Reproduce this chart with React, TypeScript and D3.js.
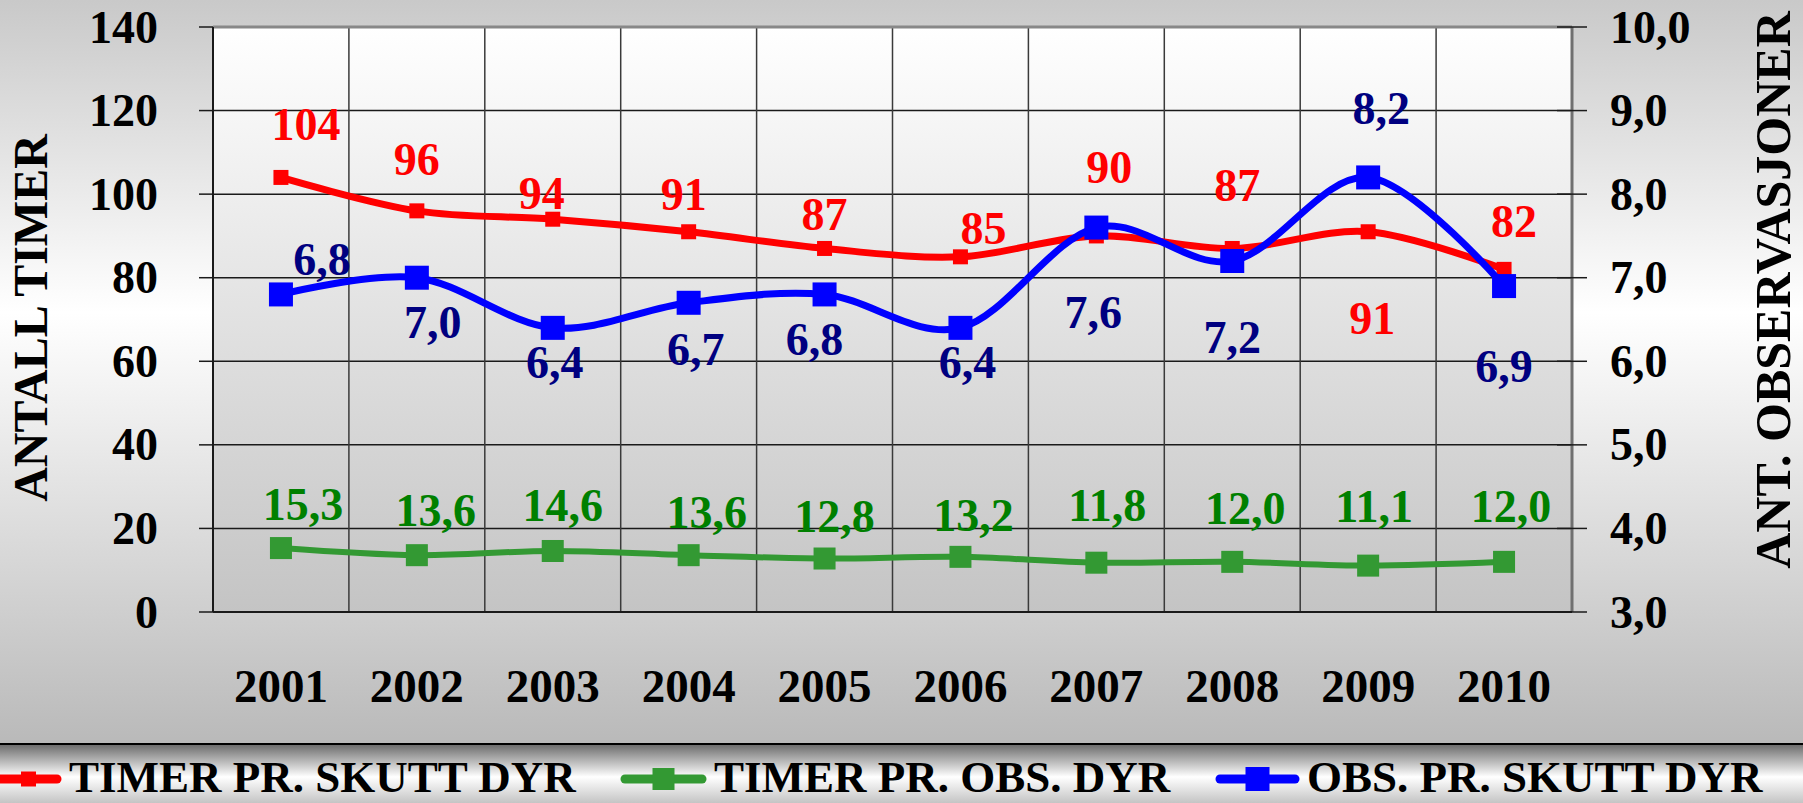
import React from 'react'
import * as d3 from 'd3'

// data
const years = ['2001', '2002', '2003', '2004', '2005', '2006', '2007', '2008', '2009', '2010']
const timerSkutt = [104, 96, 94, 91, 87, 85, 90, 87, 91, 82]
const timerObs = [15.3, 13.6, 14.6, 13.6, 12.8, 13.2, 11.8, 12.0, 11.1, 12.0]
const obsSkutt = [6.8, 7.0, 6.4, 6.7, 6.8, 6.4, 7.6, 7.2, 8.2, 6.9]
const leftTicks = [0, 20, 40, 60, 80, 100, 120, 140]
const rightTicks = [3, 4, 5, 6, 7, 8, 9, 10]

// label placement (px offset of the text baseline from its point), set by hand in the original
const redLabelOffset = [[25, -37], [0, -36], [-11, -10], [-5, -22], [0, -18], [23, -13], [13, -53], [5, -47], [4, 102], [10, -32]]
const blueLabelOffset = [[41, -19], [16, 60], [2, 50], [7, 62], [-10, 61], [7, 50], [-3, 100], [0, 92], [13, -53], [0, 96]]
const greenLabelOffset = [[22, -28], [19, -29], [10, -30], [18, -27], [10, -27], [13, -26], [11, -42], [13, -38], [6, -44], [7, -40]]

const W = 1803
const H = 803
const plot = { left: 213, right: 1572, top: 27, bottom: 612 }
const FONT = '"Liberation Serif", "Times New Roman", serif'

const comma = (v: number) => d3.format('.1f')(v).replace('.', ',')

export default function App() {
    const x = d3.scaleBand<string>().domain(years).range([plot.left, plot.right]).padding(0)
    const yL = d3.scaleLinear().domain([0, 140]).range([plot.bottom, plot.top])
    const yR = d3.scaleLinear().domain([3, 10]).range([plot.bottom, plot.top])
    const cx = (i: number) => (x(years[i]) as number) + x.bandwidth() / 2

    const line = (vals: number[], y: d3.ScaleLinear<number, number>) =>
        d3.line<number>()
            .x((_, i) => cx(i))
            .y(d => y(d))
            .curve(d3.curveCatmullRom.alpha(0))(vals) as string

    const series = [
        { vals: timerSkutt, y: yL, color: '#ff0000', labelColor: '#ff0000', width: 7, marker: 15, offs: redLabelOffset, fmt: (v: number) => String(v) },
        { vals: timerObs, y: yL, color: '#339933', labelColor: '#008000', width: 6, marker: 22, offs: greenLabelOffset, fmt: comma },
        { vals: obsSkutt, y: yR, color: '#0000ff', labelColor: '#000080', width: 7, marker: 24, offs: blueLabelOffset, fmt: comma },
    ]

    const legend = [
        { label: 'TIMER PR. SKUTT DYR', color: '#ff0000', marker: 15, x0: -20, x1: 57, tx: 69 },
        { label: 'TIMER PR. OBS. DYR', color: '#339933', marker: 22, x0: 625, x1: 702, tx: 714 },
        { label: 'OBS. PR. SKUTT DYR', color: '#0000ff', marker: 24, x0: 1220, x1: 1295, tx: 1307 },
    ]

    const boundaries = years.slice(1).map(d => x(d) as number)

    return (
        <svg width={W} height={H} style={{ position: 'absolute', left: 0, top: 0 }} fontFamily={FONT} fontWeight="bold">
            <defs>
                <linearGradient id="bg" x1="0" y1="0" x2="0" y2="1">
                    <stop offset="0" stopColor="#c9c9c9" />
                    <stop offset="0.42" stopColor="#ffffff" />
                    <stop offset="1" stopColor="#b9b9b9" />
                </linearGradient>
                <linearGradient id="plotbg" x1="0" y1="0" x2="0" y2="1">
                    <stop offset="0" stopColor="#ffffff" />
                    <stop offset="1" stopColor="#c4c4c4" />
                </linearGradient>
                <linearGradient id="legbg" x1="0" y1="0" x2="0" y2="1">
                    <stop offset="0" stopColor="#6e6e6e" />
                    <stop offset="0.55" stopColor="#ffffff" />
                    <stop offset="1" stopColor="#c4c4c4" />
                </linearGradient>
            </defs>

            <rect x={0} y={0} width={W} height={745} fill="url(#bg)" />
            <rect x={0} y={745} width={W} height={H - 745} fill="url(#legbg)" />
            <line x1={0} x2={W} y1={744} y2={744} stroke="#000" strokeWidth={2} />

            {/* plot area */}
            <rect x={plot.left} y={plot.top} width={plot.right - plot.left} height={plot.bottom - plot.top} fill="url(#plotbg)" />
            {leftTicks.slice(1, -1).map(t => (
                <line key={'h' + t} x1={plot.left} x2={plot.right} y1={yL(t)} y2={yL(t)} stroke="#1a1a1a" strokeWidth={1.5} />
            ))}
            {boundaries.map((b, i) => (
                <line key={'v' + i} x1={b} x2={b} y1={plot.top} y2={plot.bottom} stroke="#3a3a3a" strokeWidth={1.5} />
            ))}
            <line x1={plot.left} x2={plot.right} y1={plot.top} y2={plot.top} stroke="#888" strokeWidth={3} />
            <line x1={plot.right} x2={plot.right} y1={plot.top} y2={plot.bottom} stroke="#707070" strokeWidth={3} />
            <line x1={plot.left} x2={plot.left} y1={plot.top} y2={plot.bottom} stroke="#1a1a1a" strokeWidth={2} />
            <line x1={plot.left} x2={plot.right} y1={plot.bottom} y2={plot.bottom} stroke="#1a1a1a" strokeWidth={2} />

            {/* left axis */}
            {leftTicks.map(t => (
                <g key={'l' + t}>
                    <line x1={199} x2={plot.left} y1={yL(t)} y2={yL(t)} stroke="#1a1a1a" strokeWidth={1.5} />
                    <text x={158} y={yL(t)} dy="0.34em" textAnchor="end" fontSize={46}>{t}</text>
                </g>
            ))}
            {/* right axis */}
            {rightTicks.map(t => (
                <g key={'r' + t}>
                    <line x1={plot.right - 15} x2={plot.right + 15} y1={yR(t)} y2={yR(t)} stroke="#1a1a1a" strokeWidth={1.5} />
                    <text x={1610} y={yR(t)} dy="0.34em" textAnchor="start" fontSize={46}>{comma(t)}</text>
                </g>
            ))}
            {/* x axis */}
            {years.map((yr, i) => (
                <text key={yr} x={cx(i)} y={702} textAnchor="middle" fontSize={47}>{yr}</text>
            ))}

            <text transform="translate(47,318) rotate(-90)" textAnchor="middle" fontSize={48}>ANTALL TIMER</text>
            <text transform="translate(1790,290) rotate(-90)" textAnchor="middle" fontSize={50}>ANT. OBSERVASJONER</text>

            {/* series */}
            {series.map((s, si) => (
                <g key={'s' + si}>
                    <path d={line(s.vals, s.y)} fill="none" stroke={s.color} strokeWidth={s.width} strokeLinejoin="round" />
                    {s.vals.map((v, i) => (
                        <rect key={i} x={cx(i) - s.marker / 2} y={s.y(v) - s.marker / 2} width={s.marker} height={s.marker} fill={s.color} />
                    ))}
                </g>
            ))}
            {series.map((s, si) => (
                <g key={'lab' + si} fill={s.labelColor} fontSize={46} textAnchor="middle">
                    {s.vals.map((v, i) => (
                        <text key={i} x={cx(i) + s.offs[i][0]} y={s.y(v) + s.offs[i][1]}>{s.fmt(v)}</text>
                    ))}
                </g>
            ))}

            {/* legend */}
            {legend.map(l => (
                <g key={l.label}>
                    <line x1={l.x0} x2={l.x1} y1={779} y2={779} stroke={l.color} strokeWidth={9} strokeLinecap="round" />
                    <rect x={(l.x0 + l.x1) / 2 - l.marker / 2 + (l.x0 < 0 ? 10 : 0)} y={779 - l.marker / 2} width={l.marker} height={l.marker} fill={l.color} />
                    <text x={l.tx} y={792} fontSize={45}>{l.label}</text>
                </g>
            ))}
        </svg>
    )
}
